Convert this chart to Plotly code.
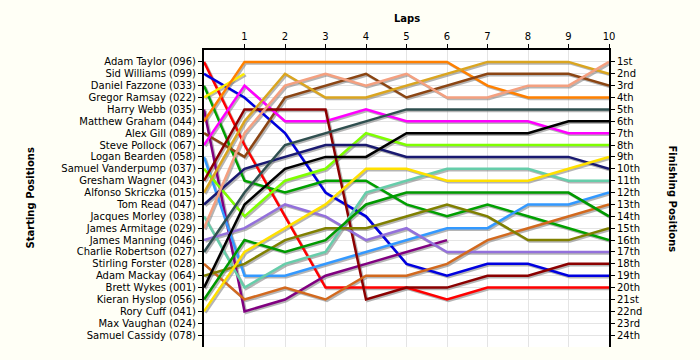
import plotly.graph_objects as go

laps = list(range(0, 11))

drivers = [
    "Adam Taylor (096)", "Sid Williams (099)", "Daniel Fazzone (033)", "Gregor Ramsay (022)",
    "Harry Webb (035)", "Matthew Graham (044)", "Alex Gill (089)", "Steve Pollock (067)",
    "Logan Bearden (058)", "Samuel Vanderpump (037)", "Gresham Wagner (043)",
    "Alfonso Skriczka (015)", "Tom Read (047)", "Jacques Morley (038)", "James Armitage (029)",
    "James Manning (046)", "Charlie Robertson (027)", "Stirling Forster (028)",
    "Adam Mackay (064)", "Brett Wykes (001)", "Kieran Hyslop (056)", "Rory Cuff (041)",
    "Max Vaughan (024)", "Samuel Cassidy (078)",
]

finish_labels = [
    "1st", "2nd", "3rd", "4th", "5th", "6th", "7th", "8th", "9th", "10th", "11th", "12th",
    "13th", "14th", "15th", "16th", "17th", "18th", "19th", "20th", "21st", "22nd", "23rd", "24th",
]

# positions per lap (lap 0 = grid)
pos_adam_taylor = [1, 8, 14, 20, 20, 20, 21, 20, 20, 20, 20]
pos_sid_williams = [2, 4, 7, 12, 14, 18, 19, 18, 18, 19, 19]
pos_daniel_fazzone = [3, 11, 12, 11, 11, 13, 14, 13, 14, 15, 16]
pos_gregor_ramsay = [4, 2]
pos_harry_webb = [5, 22, 21, 19, 18, 17, 16]
pos_matthew_graham = [6, 1, 1, 1, 1, 1, 1, 3, 4, 4, 4]
pos_alex_gill = [7, 9, 4, 3, 2, 4, 3, 2, 2, 2, 3]
pos_steve_pollock = [8, 3, 6, 6, 5, 6, 6, 6, 6, 7, 7]
pos_logan_bearden = [9, 19, 19, 18, 17, 16, 15, 15, 13, 13, 12]
pos_samuel_vanderpump = [10, 14, 11, 10, 7, 8, 8, 8, 8, 8, 8]
pos_gresham_wagner = [11, 5, 5, 5, 21, 20, 20, 19, 19, 18, 18]
pos_alfonso_skriczka = [12, 6, 2, 4, 4, 3, 2, 1, 1, 1, 2]
pos_tom_read = [13, 10, 9, 8, 8, 9, 9, 9, 9, 9, 10]
pos_jacques_morley = [14, 20, 18, 17, 12, 11, 10, 10, 10, 11, 11]
pos_james_armitage = [15, 7, 3, 2, 3, 2, 4, 4, 3, 3, 1]
pos_james_manning = [16, 15, 13, 14, 16, 15, 17, 17, 17, 17, 17]
pos_charlie_robertson = [17, 12, 8, 7, 6, 5, 5, 5, 5, 5, 5]
pos_stirling_forster = [18, 21, 20, 21, 19, 19, 18, 16, 15, 14, 13]
pos_adam_mackay = [19, 18, 16, 15, 15, 14, 13, 14, 16, 16, 15]
pos_brett_wykes = [20, 13, 10, 9, 9, 7, 7, 7, 7, 6, 6]
pos_kieran_hyslop = [21, 16, 17, 16, 13, 12, 12, 12, 12, 12, 14]
pos_rory_cuff = [22, 17, 15, 13, 10, 10, 11, 11, 11, 10, 9]

series = [
    (drivers[0], pos_adam_taylor, "#ff0000"),
    (drivers[1], pos_sid_williams, "#0000e0"),
    (drivers[2], pos_daniel_fazzone, "#00a000"),
    (drivers[3], pos_gregor_ramsay, "#ffee00"),
    (drivers[4], pos_harry_webb, "#800080"),
    (drivers[5], pos_matthew_graham, "#ff8000"),
    (drivers[6], pos_alex_gill, "#8b4513"),
    (drivers[7], pos_steve_pollock, "#ff00ff"),
    (drivers[8], pos_logan_bearden, "#3399ff"),
    (drivers[9], pos_samuel_vanderpump, "#7fff00"),
    (drivers[10], pos_gresham_wagner, "#8b0000"),
    (drivers[11], pos_alfonso_skriczka, "#daa520"),
    (drivers[12], pos_tom_read, "#191970"),
    (drivers[13], pos_jacques_morley, "#66cdaa"),
    (drivers[14], pos_james_armitage, "#f4a080"),
    (drivers[15], pos_james_manning, "#9370db"),
    (drivers[16], pos_charlie_robertson, "#2f4f4f"),
    (drivers[17], pos_stirling_forster, "#d2691e"),
    (drivers[18], pos_adam_mackay, "#808000"),
    (drivers[19], pos_brett_wykes, "#000000"),
    (drivers[20], pos_kieran_hyslop, "#009900"),
    (drivers[21], pos_rory_cuff, "#ffe000"),
]

X0, X1 = 0, 10
Y_BOTTOM, Y_TOP = 25, 0
PLOT_W, PLOT_H = 405, 297
SHADOW_PX = 1.5
dx = SHADOW_PX * (X1 - X0) / PLOT_W
dy = SHADOW_PX * (Y_BOTTOM - Y_TOP) / PLOT_H

fig = go.Figure()
# shadows on base axes (range shifted a little)
for name, pos, col in series:
    fig.add_trace(go.Scatter(
        x=laps[:len(pos)], y=pos, mode="lines", xaxis="x", yaxis="y",
        line=dict(color="rgba(120,120,120,0.55)", width=2.5),
        showlegend=False, hoverinfo="skip",
    ))
# coloured lines on overlay axes with true range
for name, pos, col in series:
    fig.add_trace(go.Scatter(
        x=laps[:len(pos)], y=pos, mode="lines", name=name, xaxis="x2", yaxis="y2",
        line=dict(color=col, width=2.5), showlegend=False, hoverinfo="skip",
    ))
# right axis carrier
fig.add_trace(go.Scatter(x=[0], y=[1], xaxis="x2", yaxis="y3", mode="markers",
                         marker=dict(opacity=0), showlegend=False, hoverinfo="skip"))

FONT = "DejaVu Sans, Verdana, sans-serif"
tick_font = dict(family=FONT, size=10, color="#000000")
pos_vals = list(range(1, 25))
GRID = "#e4e4e4"
BG = "#fffff6"

fig.update_layout(
    width=700, height=360,
    margin=dict(l=204, r=91, t=50, b=13, autoexpand=False),
    paper_bgcolor=BG,
    plot_bgcolor="#ffffff",
    font=dict(family=FONT, size=10, color="#000"),
    xaxis=dict(range=[X0 - dx, X1 - dx], visible=False, automargin=False,
               showgrid=False, zeroline=False),
    yaxis=dict(range=[Y_BOTTOM - dy, Y_TOP - dy], visible=False, automargin=False,
               showgrid=False, zeroline=False),
    xaxis2=dict(
        range=[X0, X1], overlaying="x", side="top", tickmode="array",
        tickvals=list(range(1, 11)), ticks="outside", ticklen=4, tickcolor="#000000",
        showline=True, linecolor="#000000", linewidth=2, automargin=False,
        showgrid=True, gridcolor=GRID, gridwidth=1, zeroline=False, tickfont=tick_font,
    ),
    yaxis2=dict(
        range=[Y_BOTTOM, Y_TOP], overlaying="y", side="left", tickmode="array",
        tickvals=pos_vals, ticktext=drivers, ticks="outside", ticklen=4,
        tickcolor="#000000", showline=True, linecolor="#000000", linewidth=2,
        automargin=False, showgrid=True, gridcolor=GRID, gridwidth=1, zeroline=False,
        tickfont=tick_font,
    ),
    yaxis3=dict(
        range=[Y_BOTTOM, Y_TOP], overlaying="y", side="right", tickmode="array",
        tickvals=pos_vals, ticktext=finish_labels, ticks="outside", ticklen=4,
        tickcolor="#000000", showline=True, linecolor="#000000", linewidth=2,
        automargin=False, showgrid=False, zeroline=False, tickfont=tick_font,
    ),
    annotations=[
        dict(text="<b>Laps</b>", xref="paper", yref="paper", x=0.5, y=1.0, yshift=32,
             showarrow=False, xanchor="center", yanchor="middle",
             font=dict(family=FONT, size=10, color="#000")),
        dict(text="<b>Starting Positions</b>", xref="paper", yref="paper", x=0,
             xshift=-174, y=0.5, textangle=-90, showarrow=False, xanchor="center",
             yanchor="middle", font=dict(family=FONT, size=10, color="#000")),
        dict(text="<b>Finishing Positions</b>", xref="paper", yref="paper", x=1,
             xshift=63, y=0.5, textangle=90, showarrow=False, xanchor="center",
             yanchor="middle", font=dict(family=FONT, size=10, color="#000")),
    ],
)

fig.write_html(
    "out.html",
    config={"displayModeBar": False},
    post_script="document.body.style.margin='0';document.body.style.background='" + BG + "';",
)
